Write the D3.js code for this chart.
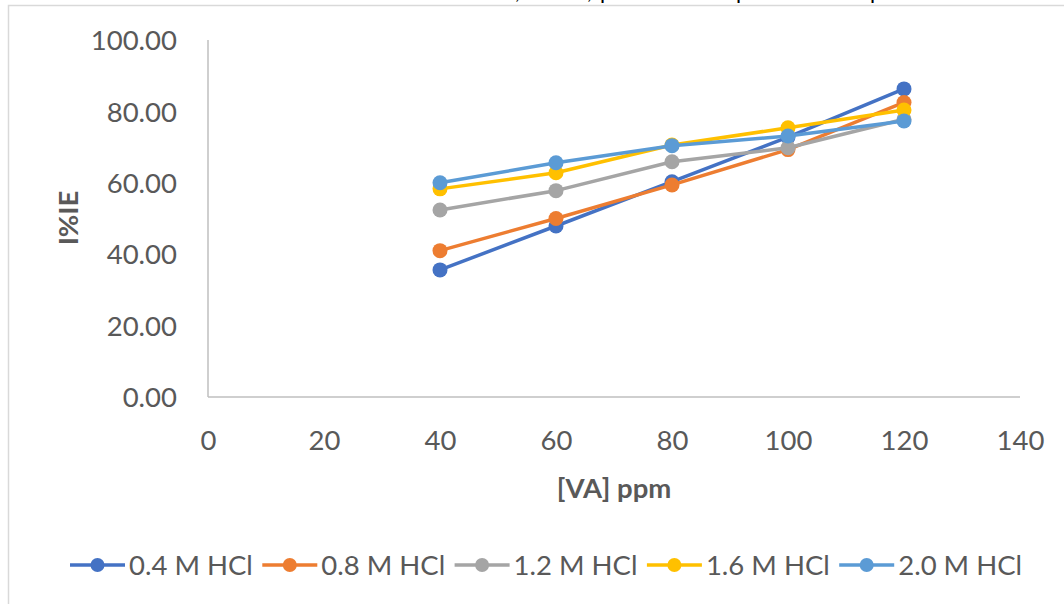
<!DOCTYPE html>
<html>
<head>
<meta charset="utf-8">
<script src="https://cdn.jsdelivr.net/npm/d3@7"></script>
<style>
  html, body { margin: 0; padding: 0; background: #fff; }
  svg { display: block; }
  text { font-family: Lato, "Open Sans", sans-serif; }
</style>
</head>
<body>
<svg id="chart" width="1064" height="604"></svg>
<script>
// ---- data ----
const xValues = [40, 60, 80, 100, 120];
const seriesNames = ["0.4 M HCl", "0.8 M HCl", "1.2 M HCl", "1.6 M HCl", "2.0 M HCl"];
const s04 = [35.6, 47.9, 60.3, 72.8, 86.3];
const s08 = [41.0, 50.0, 59.4, 69.3, 82.5];
const s12 = [52.4, 57.8, 65.9, 69.8, 77.8];
const s16 = [58.3, 62.8, 70.6, 75.4, 80.4];
const s20 = [60.0, 65.6, 70.4, 73.1, 77.3];
const xTicks = [0, 20, 40, 60, 80, 100, 120, 140];
const yTicks = [0, 20, 40, 60, 80, 100];
const colors = ["#4472C4", "#ED7D31", "#A5A5A5", "#FFC000", "#5B9BD5"];

const seriesValues = [s04, s08, s12, s16, s20];
const series = seriesNames.map((name, i) => ({
  name, color: colors[i],
  points: xValues.map((x, j) => ({ x, y: seriesValues[i][j] }))
}));

const svg = d3.select("#chart");
const FS = 27.5;

// outer chart frame (extends past the photo's right/bottom edge)
svg.append("rect").attr("x", 8.5).attr("y", 5.5).attr("width", 1080).attr("height", 640)
  .attr("fill", "#fff").attr("stroke", "#d9d9d9").attr("stroke-width", 1.5);

// cut-off title fragments at the top edge (title lies above the photographed area)
const frag = [[515, ","], [587, ","], [600, "p"], [736, "p"], [870, "p"]];
svg.append("g").selectAll("text").data(frag).join("text")
  .attr("x", d => d[0]).attr("y", -1).attr("font-size", 22).attr("fill", "#000")
  .text(d => d[1]);

const x = d3.scaleLinear().domain([0, 140]).range([208, 1020]);
const y = d3.scaleLinear().domain([0, 100]).range([397, 40]);

// axes
const yAxis = svg.append("g").attr("transform", `translate(${x(0)},0)`)
  .call(d3.axisLeft(y).tickValues(yTicks).tickFormat(d3.format(".2f")).tickSize(0));
yAxis.select(".domain").remove();
yAxis.selectAll("text").attr("x", -31).attr("dy", "0.35em")
  .attr("font-size", FS).attr("fill", "#595959").attr("font-family", "Lato, sans-serif");

const xAxis = svg.append("g").attr("transform", `translate(0,${y(0)})`)
  .call(d3.axisBottom(x).tickValues(xTicks).tickFormat(d3.format("d")).tickSize(0));
xAxis.select(".domain").remove();
xAxis.selectAll("text").attr("y", 43).attr("dy", "0.35em")
  .attr("font-size", FS).attr("fill", "#595959").attr("font-family", "Lato, sans-serif");

// axis lines
svg.append("line").attr("x1", x(0)).attr("x2", x(0)).attr("y1", y(100)).attr("y2", y(0))
  .attr("stroke", "#bfbfbf").attr("stroke-width", 1.5);
svg.append("line").attr("x1", x(0)).attr("x2", x(140)).attr("y1", y(0)).attr("y2", y(0))
  .attr("stroke", "#bfbfbf").attr("stroke-width", 1.5);

// axis titles
svg.append("text").attr("x", 614).attr("y", 488).attr("dy", "0.35em")
  .attr("text-anchor", "middle").attr("font-size", FS).attr("font-weight", "bold")
  .attr("fill", "#595959").text("[VA] ppm");
svg.append("text").attr("transform", "translate(68,218) rotate(-90)").attr("dy", "0.35em")
  .attr("text-anchor", "middle").attr("font-size", FS).attr("font-weight", "bold")
  .attr("fill", "#595959").text("I%IE");

// series
const line = d3.line().x(d => x(d.x)).y(d => y(d.y));
series.forEach(s => {
  const g = svg.append("g");
  g.append("path").datum(s.points).attr("d", line).attr("fill", "none")
    .attr("stroke", s.color).attr("stroke-width", 3.5).attr("stroke-linejoin", "round");
  g.selectAll("circle").data(s.points).join("circle")
    .attr("cx", d => x(d.x)).attr("cy", d => y(d.y)).attr("r", 7.5).attr("fill", s.color);
});

// legend
const legendY = 565;
const legendX0 = 70;
const legendStep = 192.3;
const lg = svg.append("g");
series.forEach((s, i) => {
  const lx = legendX0 + i * legendStep;
  lg.append("line").attr("x1", lx).attr("x2", lx + 55).attr("y1", legendY).attr("y2", legendY)
    .attr("stroke", s.color).attr("stroke-width", 3.5);
  lg.append("circle").attr("cx", lx + 27.5).attr("cy", legendY).attr("r", 7).attr("fill", s.color);
  lg.append("text").attr("x", lx + 59).attr("y", legendY).attr("dy", "0.35em")
    .attr("font-size", FS).attr("fill", "#595959").text(s.name);
});
</script>
</body>
</html>
